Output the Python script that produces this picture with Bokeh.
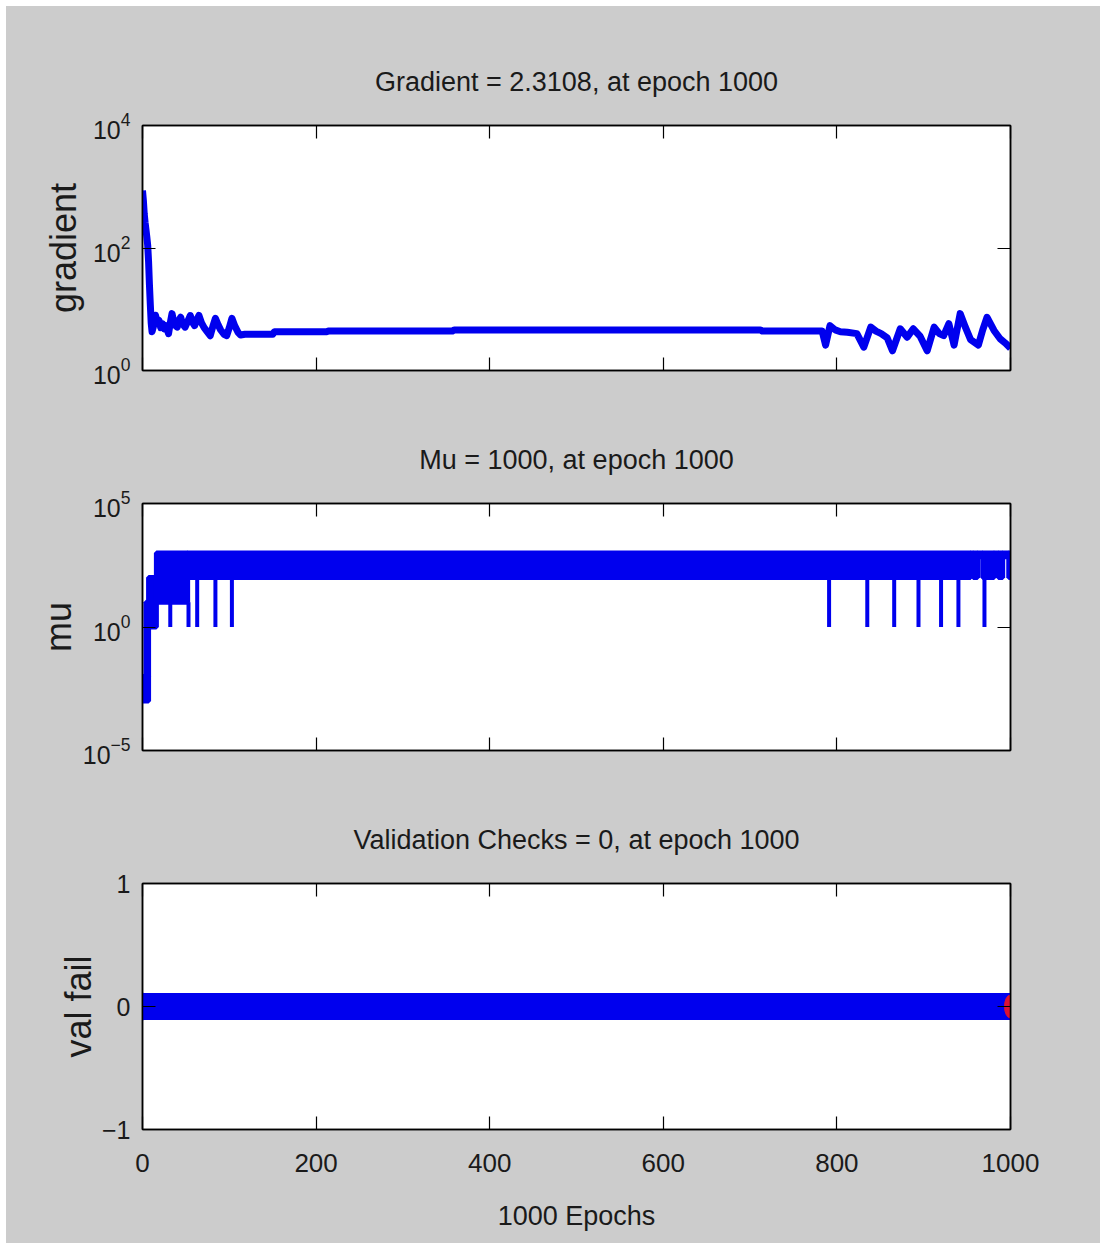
from bokeh.plotting import figure
from bokeh.models import Range1d, FixedTicker, LinearAxis, LogAxis
from bokeh.layouts import column
from bokeh.embed import file_html
from bokeh.resources import INLINE

# ---------------- data ----------------
x_ticks = [0, 200, 400, 600, 800, 1000]

grad_epoch = [0, 1, 2, 3, 4, 5, 6, 7, 8, 9, 10, 11, 13, 15, 17, 19, 21, 23, 25, 27,
              30, 32, 34, 36, 38, 40, 42, 44, 46, 49, 52, 55, 58, 60, 63, 65, 68, 71,
              74, 78, 81, 84, 87, 90, 94, 97, 100, 103, 106, 110, 113, 118, 150, 152,
              212, 214, 357, 359, 712, 714, 783, 787, 792, 798, 804, 812, 823, 831,
              839, 845, 851, 858, 864, 873, 881, 888, 896, 904, 912, 918, 923, 929,
              935, 942, 948, 954, 963, 968, 973, 981, 988, 994, 1000]
grad_value = [870, 600, 360, 260, 200, 150, 110, 60, 25, 12, 6, 4.3, 5.5, 8.0, 6.0, 6.6,
              5.0, 5.8, 4.8, 5.4, 4.0, 6.0, 8.5, 6.2, 5.4, 5.1, 6.6, 7.4, 5.8, 5.1, 6.3,
              7.9, 6.0, 5.4, 6.9, 7.9, 6.0, 5.0, 4.4, 3.7, 5.2, 7.1, 5.6, 4.6, 3.9, 3.7,
              5.0, 7.1, 5.5, 4.2, 3.8, 3.9, 3.9, 4.3, 4.3, 4.4, 4.4, 4.6, 4.6, 4.4, 4.4,
              2.6, 5.4, 4.6, 4.3, 4.2, 4.0, 2.4, 5.1, 4.4, 4.0, 3.4, 2.1, 4.8, 3.5, 4.8,
              3.6, 2.1, 5.1, 4.0, 3.7, 5.8, 2.6, 8.5, 5.1, 3.2, 2.6, 4.6, 7.4, 4.5, 3.3,
              2.8, 2.3108]
grad_ticks = [1, 100, 10000]

# mu: ranges of epochs over which mu alternates between a low and a high value
mu_band_start = [0, 4, 7, 16, 52, 954, 957, 962, 968, 981, 986, 991, 998]
mu_band_end = [7, 7, 16, 52, 954, 957, 962, 968, 981, 986, 991, 998, 1000]
mu_band_low = [1e-3, 1e-2, 1, 10, 100, 700, 100, 700, 100, 700, 100, 700, 100]
mu_band_high = [1e-2, 10, 100, 1000, 1000, 1000, 1000, 1000, 1000, 1000, 1000, 1000, 1000]
# single epochs where mu dropped further
mu_dip_epoch = [32, 53, 63, 84, 103, 791, 835, 866, 894, 920, 940, 970]
mu_dip_low = [1, 1, 1, 1, 1, 1, 1, 1, 1, 1, 1, 1]
mu_dip_high = [10, 10, 100, 100, 100, 100, 100, 100, 100, 100, 100, 100]
mu_ticks = [1e-5, 1, 1e5]

val_epoch = [0, 1000]
val_fail = [0, 0]
val_ticks = [-1, 0, 1]

# ---------------- style ----------------
BLUE = "#0000ee"
RED = "#dd1133"
GRAY = "#cccccc"
FONT = "'Liberation Sans', Arial"
TXT = "#1a1a1a"
W = 1094
LEFT, RIGHT = 136, 90


def make_fig(height, top, bottom, y_type, y_range, title):
    p = figure(width=W, height=height, y_axis_type=y_type,
               x_range=Range1d(0, 1000), y_range=y_range,
               output_backend="svg", toolbar_location=None,
               min_border_left=LEFT, min_border_right=RIGHT,
               min_border_top=top, min_border_bottom=bottom,
               background_fill_color="white", border_fill_color=GRAY,
               outline_line_color="black", outline_line_width=1.5)
    p.grid.visible = False
    p.title.text = title
    p.title.align = "center"
    p.title.text_font = FONT
    p.title.text_font_size = "27px"
    p.title.text_font_style = "normal"
    p.title.text_color = TXT
    p.title.standoff = 58
    return p


def style(ax, ticks, labels=True, size="26px"):
    ax.ticker = FixedTicker(ticks=ticks, minor_ticks=[])
    ax.major_tick_in = 13
    ax.major_tick_out = 0
    ax.minor_tick_in = 0
    ax.minor_tick_out = 0
    ax.axis_line_color = "black"
    ax.axis_line_width = 1.5
    ax.major_tick_line_color = "black"
    ax.major_tick_line_width = 1.2
    ax.major_label_text_font = FONT
    ax.major_label_text_font_size = size
    ax.major_label_text_color = TXT
    ax.major_label_standoff = 12
    ax.axis_label_text_font = FONT
    ax.axis_label_text_font_size = "36px"
    ax.axis_label_text_font_style = "normal"
    ax.axis_label_text_color = TXT
    if not labels:
        ax.major_label_overrides = {t: "" for t in ticks}


def frame_axes(p, y_ticks, logy, xlabels):
    bottom = p.xaxis[0]
    left = p.yaxis[0]
    style(bottom, x_ticks, labels=xlabels)
    style(left, y_ticks, size="25px")
    top = LinearAxis()
    style(top, x_ticks, labels=False)
    p.add_layout(top, "above")
    right = LogAxis() if logy else LinearAxis()
    style(right, y_ticks, labels=False)
    p.add_layout(right, "right")
    return bottom, left


# ---- gradient ----
p1 = make_fig(407, 119, 43, "log", Range1d(1, 1e4), "Gradient = 2.3108, at epoch 1000")
b1, l1 = frame_axes(p1, grad_ticks, True, False)
l1.axis_label = "gradient"
l1.axis_label_standoff = 6
p1.line(grad_epoch, grad_value, line_color=BLUE, line_width=7, line_join="round")

# ---- mu ----
p2 = make_fig(380, 90, 43, "log", Range1d(1e-5, 1e5), "Mu = 1000, at epoch 1000")
b2, l2 = frame_axes(p2, mu_ticks, True, False)
l2.axis_label = "mu"
l2.axis_label_standoff = 1
p2.quad(left=mu_band_start, right=mu_band_end, bottom=mu_band_low, top=mu_band_high,
        fill_color=BLUE, line_color=BLUE, line_width=5)
p2.segment(x0=mu_dip_epoch, y0=mu_dip_low, x1=mu_dip_epoch, y1=mu_dip_high,
           line_color=BLUE, line_width=4)

# ---- validation checks ----
p3 = make_fig(450, 90, 114, "linear", Range1d(-1, 1), "Validation Checks = 0, at epoch 1000")
b3, l3 = frame_axes(p3, val_ticks, False, True)
l3.axis_label = "val fail"
l3.axis_label_standoff = 0
b3.axis_label = "1000 Epochs"
b3.axis_label_text_font_size = "27px"
b3.axis_label_standoff = 26
b3.major_label_standoff = 24
p3.line(val_epoch, val_fail, line_color=BLUE, line_width=27)
p3.ellipse(x=val_epoch[:1], y=val_fail[:1], width=15, height=27,
           width_units="screen", height_units="screen", fill_color=BLUE, line_color=BLUE)
p3.ellipse(x=val_epoch[-1:], y=val_fail[-1:], width=12, height=23,
           width_units="screen", height_units="screen", fill_color=RED, line_color=RED)

layout = column(p1, p2, p3, spacing=0, margin=(6, 0, 0, 6),
                styles={"background-color": GRAY})
open("out.html", "w").write(file_html(layout, INLINE))
